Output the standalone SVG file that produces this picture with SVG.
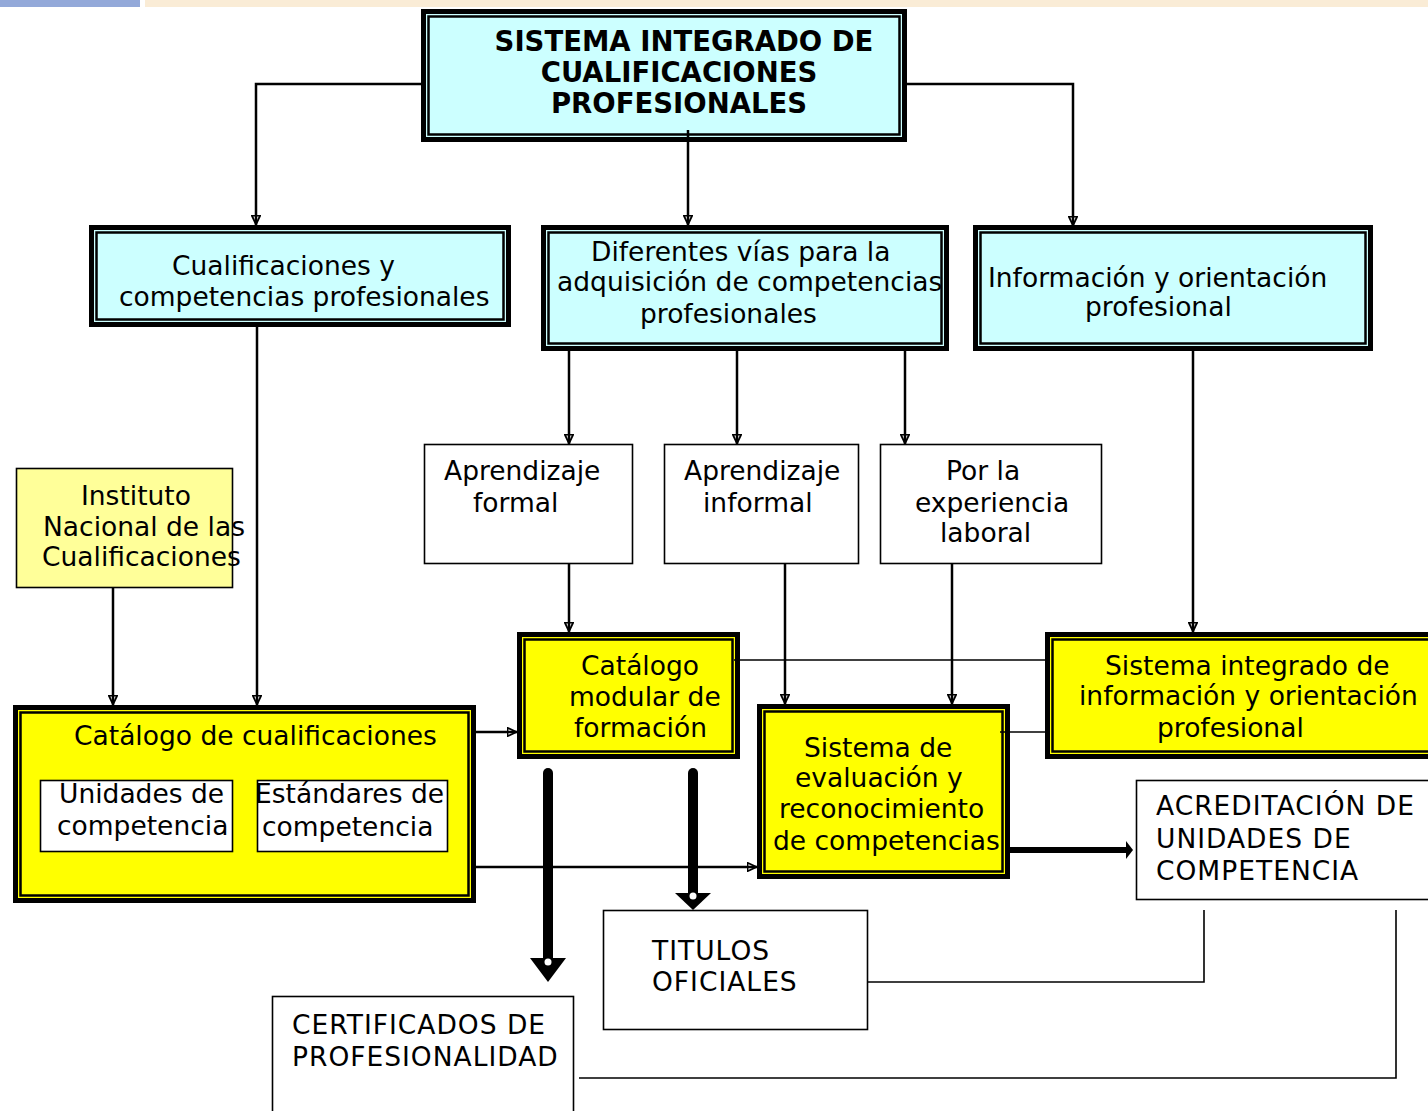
<svg xmlns="http://www.w3.org/2000/svg" width="1428" height="1111" viewBox="0 0 1428 1111">
<style>
.t{font-family:"DejaVu Sans",Verdana,"Liberation Sans",sans-serif;font-size:26.5px;fill:#000}
.u{letter-spacing:1px}
.tb{font-family:"DejaVu Sans",Verdana,"Liberation Sans",sans-serif;font-size:27.5px;font-weight:bold;fill:#000}
.ob{stroke:#000;stroke-width:5}
.ib{fill:none;stroke:#000;stroke-width:2.5}
.cy{fill:#ccffff}
.ye{fill:#ffff00}
.wb{fill:#fff;stroke:#000;stroke-width:1.6}
.c{fill:none;stroke:#000;stroke-width:2.5}
.thin{fill:none;stroke:#000;stroke-width:1.6}
.thick{fill:none;stroke:#000;stroke-width:10;stroke-linecap:round}
</style>
<defs>
<marker id="ah" viewBox="0 0 10 10" refX="10" refY="5" markerWidth="10" markerHeight="10" markerUnits="userSpaceOnUse" orient="auto">
<path d="M0.5,0.8 L9.5,5 L0.5,9.2 Z" fill="none" stroke="#000" stroke-width="1.8"/>
</marker>
</defs>
<rect width="1428" height="1111" fill="#fff"/>
<rect x="0" y="0" width="140" height="7" fill="#93a9d9"/>
<rect x="145" y="0" width="1283" height="7" fill="#faecd6"/>

<g id="n-top">
<rect class="cy ob" x="423.5" y="11.5" width="481" height="128"/>
<rect class="ib" x="428.5" y="16.5" width="471" height="118"/>
<text class="tb" x="684" y="51" text-anchor="middle">SISTEMA INTEGRADO DE</text>
<text class="tb" x="679" y="82" text-anchor="middle">CUALIFICACIONES</text>
<text class="tb" x="679" y="113" text-anchor="middle">PROFESIONALES</text>
</g>

<g id="n-cualificaciones">
<rect class="cy ob" x="91.5" y="227.5" width="417" height="97"/>
<rect class="ib" x="96.5" y="232.5" width="407" height="87"/>
<text class="t" x="172" y="275">Cualificaciones y</text>
<text class="t" x="119" y="306">competencias profesionales</text>
</g>

<g id="n-vias">
<rect class="cy ob" x="543.5" y="227.5" width="403" height="121"/>
<rect class="ib" x="548.5" y="232.5" width="393" height="111"/>
<text class="t" x="591" y="261">Diferentes vías para la</text>
<text class="t" x="557" y="291">adquisición de competencias</text>
<text class="t" x="640" y="323">profesionales</text>
</g>

<g id="n-informacion">
<rect class="cy ob" x="975.5" y="227.5" width="395" height="121"/>
<rect class="ib" x="980.5" y="232.5" width="385" height="111"/>
<text class="t" x="988" y="287">Información y orientación</text>
<text class="t" x="1085" y="316">profesional</text>
</g>

<g id="n-formal">
<rect class="wb" x="424.5" y="444.5" width="208" height="119"/>
<text class="t" x="444" y="480">Aprendizaje</text>
<text class="t" x="473" y="512">formal</text>
</g>

<g id="n-informal">
<rect class="wb" x="664.5" y="444.5" width="194" height="119"/>
<text class="t" x="684" y="480">Aprendizaje</text>
<text class="t" x="703" y="512">informal</text>
</g>

<g id="n-experiencia">
<rect class="wb" x="880.5" y="444.5" width="221" height="119"/>
<text class="t" x="946" y="480">Por la</text>
<text class="t" x="915" y="512">experiencia</text>
<text class="t" x="940" y="542">laboral</text>
</g>

<g id="n-instituto">
<rect class="wb" x="16.5" y="468.5" width="216" height="119" style="fill:#ffff99"/>
<text class="t" x="81" y="505">Instituto</text>
<text class="t" x="43" y="536">Nacional de las</text>
<text class="t" x="42" y="566">Cualificaciones</text>
</g>

<g id="n-catalogo">
<rect class="ye ob" x="15.5" y="707.5" width="458" height="193"/>
<rect class="ib" x="20.5" y="712.5" width="448" height="183"/>
<text class="t" x="74" y="745">Catálogo de cualificaciones</text>
<g id="n-unidades">
<rect class="wb" x="40.5" y="780.5" width="192" height="71"/>
<text class="t" x="59" y="803">Unidades de</text>
<text class="t" x="57" y="835">competencia</text>
</g>
<g id="n-estandares">
<rect class="wb" x="257.5" y="780.5" width="190" height="71"/>
<text class="t" x="255" y="803">Estándares de</text>
<text class="t" x="262" y="836">competencia</text>
</g>
</g>

<g id="n-modular">
<rect class="ye ob" x="519.5" y="634.5" width="218" height="122"/>
<rect class="ib" x="524.5" y="639.5" width="208" height="112"/>
<text class="t" x="581" y="675">Catálogo</text>
<text class="t" x="569" y="706">modular de</text>
<text class="t" x="574" y="737">formación</text>
</g>

<g id="n-evaluacion">
<rect class="ye ob" x="759.5" y="706.5" width="248" height="170"/>
<rect class="ib" x="764.5" y="711.5" width="238" height="160"/>
<text class="t" x="804" y="757">Sistema de</text>
<text class="t" x="795" y="787">evaluación y</text>
<text class="t" x="779" y="818">reconocimiento</text>
<text class="t" x="773" y="850">de competencias</text>
</g>

<g id="n-sistema-info">
<rect class="ye ob" x="1047.5" y="634.5" width="390" height="122"/>
<rect class="ib" x="1052.5" y="639.5" width="380" height="112"/>
<text class="t" x="1105" y="675">Sistema integrado de</text>
<text class="t" x="1079" y="705">información y orientación</text>
<text class="t" x="1157" y="737">profesional</text>
</g>

<g id="n-acreditacion">
<rect class="wb" x="1136.5" y="780.5" width="300" height="119"/>
<text class="t u" x="1156" y="815">ACREDITACIÓN DE</text>
<text class="t u" x="1156" y="848">UNIDADES DE</text>
<text class="t u" x="1156" y="880">COMPETENCIA</text>
</g>

<g id="n-titulos">
<rect class="wb" x="603.5" y="910.5" width="264" height="119"/>
<text class="t u" x="652" y="960">TITULOS</text>
<text class="t u" x="652" y="991">OFICIALES</text>
</g>

<g id="n-certificados">
<rect class="wb" x="272.5" y="996.5" width="301" height="130"/>
<text class="t u" x="292" y="1034">CERTIFICADOS DE</text>
<text class="t u" x="292" y="1066">PROFESIONALIDAD</text>
</g>

<g id="connectors">
<path class="c" d="M421,84 H256 V225" marker-end="url(#ah)"/>
<path class="c" d="M907,84 H1073 V226" marker-end="url(#ah)"/>
<path class="c" d="M688,130 V225" marker-end="url(#ah)"/>
<path class="c" d="M257,327 V705" marker-end="url(#ah)"/>
<path class="c" d="M569,351 V444" marker-end="url(#ah)"/>
<path class="c" d="M737,351 V444" marker-end="url(#ah)"/>
<path class="c" d="M905,351 V444" marker-end="url(#ah)"/>
<path class="c" d="M1193,346 V632" marker-end="url(#ah)"/>
<path class="c" d="M113,588 V705" marker-end="url(#ah)"/>
<path class="c" d="M569,564 V632" marker-end="url(#ah)"/>
<path class="c" d="M785,564 V704" marker-end="url(#ah)"/>
<path class="c" d="M952,564 V704" marker-end="url(#ah)"/>
<path class="c" d="M472,732 H517" stroke-width="3" marker-end="url(#ah)"/>
<path class="c" d="M471,867 H757" stroke-width="2" marker-end="url(#ah)"/>
<path class="thin" d="M734,660 H1046"/>
<path class="thin" d="M1000,732 H1046"/>
<path d="M1010,850 H1128" fill="none" stroke="#000" stroke-width="6"/>
<path d="M1126,841 L1133,850 L1126,859 Z" fill="#000"/>
<path class="thick" d="M548,773 V958"/>
<path d="M530,958 L566,958 L548,982 Z" fill="#000"/>
<circle cx="548" cy="962" r="3.5" fill="#fff"/>
<path class="thick" d="M693,773 V893"/>
<path d="M675,893 L711,893 L693,910 Z" fill="#000"/>
<circle cx="693" cy="896" r="3.5" fill="#fff"/>
<path class="thin" d="M1204,910 V982 H868"/>
<path class="thin" d="M1396,910 V1078 H579"/>
</g>
</svg>
